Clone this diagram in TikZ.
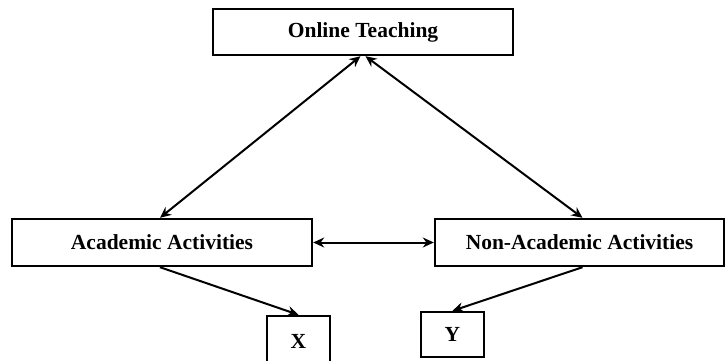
\documentclass[tikz,border=0pt]{standalone}
\usepackage{fontspec}
\setmainfont{Liberation Serif}
\usetikzlibrary{arrows.meta}
\tikzset{
  blk/.style={draw=black, line width=2.4pt, rectangle, inner sep=0pt,
    font=\fontsize{21.5}{25}\selectfont\bfseries, text=black},
  lnk/.style={line width=2pt, -{Stealth[length=11pt,width=10pt]}},
  both/.style={line width=2pt, {Stealth[length=11pt,width=10pt]}-{Stealth[length=11pt,width=10pt]}}
}
\begin{document}
\begin{tikzpicture}[x=1pt,y=-1pt]
\useasboundingbox (0,0) rectangle (725,360);
\node[blk, minimum width=300pt, minimum height=46pt] (online) at (363,32) {Online Teaching};
\node[blk, minimum width=300pt, minimum height=47pt] (acad) at (162,242.5) {Academic Activities};
\node[blk, minimum width=289pt, minimum height=47pt] (nonacad) at (579.5,242.5) {Non-Academic Activities};
\node[blk, minimum width=63pt, minimum height=50pt] (x) at (298.5,341) {X};
\node[blk, minimum width=63pt, minimum height=45pt] (y) at (452.5,334.5) {Y};
% links
\draw[both] ([xshift=-2.5pt]online.south)--([xshift=-2pt]acad.north);
\draw[both] ([xshift=2.5pt]online.south)--([xshift=3pt]nonacad.north);
\draw[both] (acad.east)--(nonacad.west);
\draw[lnk] ([xshift=-2pt]acad.south)--(x.north);
\draw[lnk] ([xshift=3pt]nonacad.south)--(y.north);
\end{tikzpicture}
\end{document}
